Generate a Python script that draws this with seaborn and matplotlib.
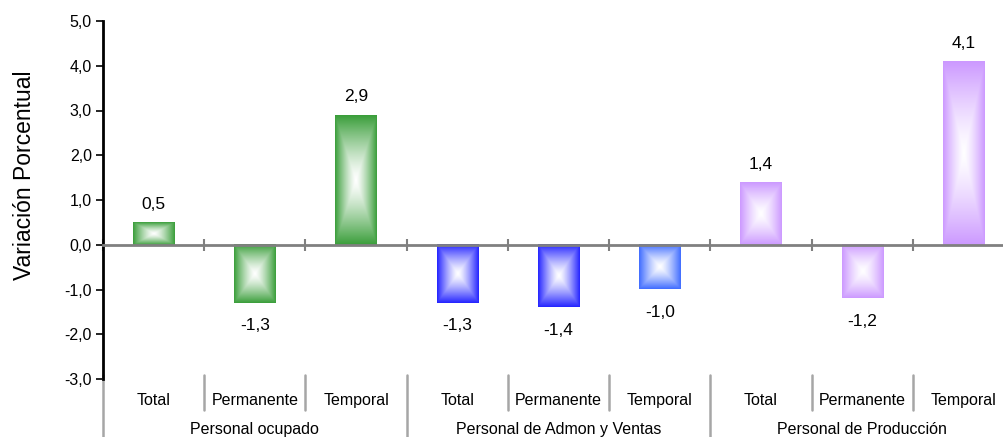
import numpy as np
import pandas as pd
import matplotlib
matplotlib.use("Agg")
import matplotlib.pyplot as plt
import matplotlib.ticker as mticker
import matplotlib.colors as mcolors
import seaborn as sns

# datos
grupos = ["Personal ocupado", "Personal de Admon y Ventas", "Personal de Producción"]
tipos = ["Total", "Permanente", "Temporal"]
valores = [0.5, -1.3, 2.9, -1.3, -1.4, -1.0, 1.4, -1.2, 4.1]
colores = ["#3a9e3a", "#3a9e3a", "#3a9e3a",
           "#2424ff", "#2424ff", "#3f6cff",
           "#cc99ff", "#cc99ff", "#cc99ff"]

claves = [g + "|" + t for g in grupos for t in tipos]
df = pd.DataFrame({"clave": claves, "valor": valores})

sns.set_style("white")
plt.rcParams["font.family"] = ["Liberation Sans", "DejaVu Sans"]

fig = plt.figure(figsize=(10.04, 4.37), dpi=100)
ax = fig.add_axes([103 / 1004, 1 - 379 / 437, 901 / 1004, 358 / 437])

sns.barplot(data=df, x="clave", y="valor", hue="clave", palette=colores,
            order=claves, width=0.41, legend=False, ax=ax, zorder=2)

# relleno degradado (del borde al centro blanco)
n = 200
u = np.linspace(-1, 1, n)
U, V = np.meshgrid(u, u)
t = np.maximum(np.abs(U), np.abs(V)) ** 1.3
for i, (patch, col) in enumerate(zip(ax.patches, colores)):
    x0, y0 = patch.get_x(), patch.get_y()
    w, h = patch.get_width(), patch.get_height()
    c = np.array(mcolors.to_rgb(col))
    img = (1 - t[..., None]) * np.ones(3) + t[..., None] * c
    ax.imshow(img, extent=[x0, x0 + w, min(y0, y0 + h), max(y0, y0 + h)],
              aspect="auto", interpolation="bilinear", zorder=2)
    patch.set_visible(False)

    va = valores[i]
    off = 18 if va > 0 else -23
    ax.annotate(f"{va:.1f}".replace(".", ","), (x0 + w / 2, va),
                xytext=(0, off), textcoords="offset pixels",
                ha="center", va="center", fontsize=12.5, color="#000000")

ax.set_xlim(-0.5, 8.4)
ax.set_ylim(-3, 5)
ax.set_yticks(np.arange(-3, 6, 1))
ax.yaxis.set_major_formatter(mticker.FuncFormatter(lambda v, p: f"{v:.1f}".replace(".", ",")))
ax.tick_params(axis="y", direction="out", length=5, width=1.2, color="black",
               labelsize=11.5, left=True, pad=3, labelcolor="#000000")

for s in ["top", "right"]:
    ax.spines[s].set_visible(False)
ax.spines["left"].set_color("black")
ax.spines["left"].set_linewidth(2)
ax.spines["bottom"].set_position(("data", 0))
ax.spines["bottom"].set_color("#808080")
ax.spines["bottom"].set_linewidth(2)
ax.spines["bottom"].set_zorder(3)

limites = np.arange(-0.5, 8.5, 1)
ax.set_xticks(limites)
ax.set_xticklabels([])
ax.tick_params(axis="x", direction="inout", length=9, width=1.5, color="#808080", bottom=True)
ax.set_xlabel("")
ax.set_ylabel("Variación Porcentual", fontsize=16.5, color="#000000")
ax.yaxis.set_label_coords(-0.074, 0.57)

# etiquetas de categoría bajo el gráfico
trans = ax.get_xaxis_transform()
for i, k in enumerate(claves):
    g, tp = k.split("|")
    ax.text(i, -0.059, tp, transform=trans, ha="center", va="center",
            fontsize=11.5, color="#000000")
for j, g in enumerate(grupos):
    ax.text(j * 3 + 1, -0.142, g, transform=trans, ha="center", va="center",
            fontsize=11.5, color="#000000")
for b in np.arange(-0.5, 9.0, 1):
    fondo = -0.17 if (b + 0.5) % 3 == 0 else -0.087
    ax.plot([b, b], [0.011, fondo], transform=trans, color="#a6a6a6",
            lw=1.8, clip_on=False)

fig.savefig("out.png", dpi=100)
